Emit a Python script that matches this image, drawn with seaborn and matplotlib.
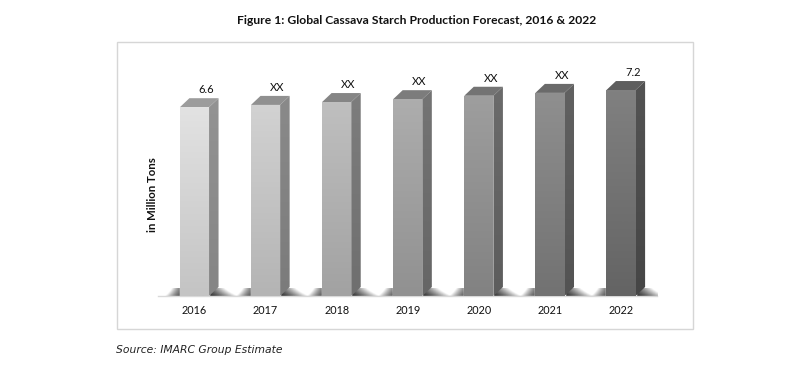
import numpy as np
import pandas as pd
import matplotlib
matplotlib.use("Agg")
import matplotlib.pyplot as plt
from matplotlib.colors import LinearSegmentedColormap
from matplotlib.patches import Polygon, Rectangle
import seaborn as sns

# data
years = ["2016", "2017", "2018", "2019", "2020", "2021", "2022"]
production = [6.6, 6.68, 6.78, 6.88, 7.0, 7.1, 7.2]
bar_labels = ["6.6", "XX", "XX", "XX", "XX", "XX", "7.2"]

# colours, top and bottom of each face
front_top = ["#e2e2e2", "#d2d2d2", "#bfbfbf", "#adadad", "#9e9e9e", "#8f8f8f", "#808080"]
front_bottom = ["#c4c4c4", "#b4b4b4", "#a2a2a2", "#919191", "#828282", "#727272", "#646464"]
side_top = ["#939393", "#8a8a8a", "#7d7d7d", "#747474", "#6b6b6b", "#616161", "#535353"]
side_bottom = ["#858585", "#7b7b7b", "#6f6f6f", "#666666", "#5d5d5d", "#535353", "#464646"]
top_color = ["#9c9c9c", "#909090", "#858585", "#7c7c7c", "#737373", "#6a6a6a", "#5e5e5e"]

W, H = 795, 371
sns.set_theme(style="white")
plt.rcParams["font.family"] = ["Lato", "DejaVu Sans"]

fig = plt.figure(figsize=(W / 100, H / 100), dpi=100)
ax = fig.add_axes([158 / W, 1 - 296 / H, (657 - 158) / W, 236 / H])
ax.patch.set_alpha(0)

df = pd.DataFrame({"year": years, "production": production})
sns.barplot(data=df, x="year", y="production", hue="year", palette=front_top,
            width=0.41, legend=False, ax=ax, zorder=3)

xlim = (-0.513, 6.506)
ylim = (0, 8.25)
ax.set_xlim(xlim)
ax.set_ylim(ylim)
px_x = (xlim[1] - xlim[0]) / (657 - 158)
px_y = (ylim[1] - ylim[0]) / 236
dx, dy = 9.5 * px_x, 9 * px_y


def gradient(patch, colors, zorder=3):
    # top to bottom fill, clipped to the face
    cmap = LinearSegmentedColormap.from_list("g", colors)
    pts = patch.get_xy()
    arr = np.linspace(0, 1, 64).reshape(-1, 1)
    im = ax.imshow(arr, cmap=cmap, aspect="auto", zorder=zorder, interpolation="bilinear",
                   extent=(pts[:, 0].min(), pts[:, 0].max(), pts[:, 1].min(), pts[:, 1].max()))
    im.set_clip_path(patch)


def shadow(x_start, x_end, height, darkness):
    # soft wedge on the floor, strongest at x_start and at floor level
    u = np.linspace(0, 1, 48)
    v = np.linspace(1, 0, 16)
    uu, vv = np.meshgrid(u, v)
    alpha = np.clip(1 - uu ** 1.4 - 0.6 * vv * (0.4 + uu), 0, 1) * darkness
    rgba = np.zeros((16, 48, 4))
    rgba[..., :3] = 0.15
    rgba[..., 3] = alpha
    if x_start > x_end:
        rgba = rgba[:, ::-1]
        x_start, x_end = x_end, x_start
    ax.imshow(rgba, aspect="auto", zorder=2, interpolation="bilinear",
              extent=(x_start, x_end, 0, height))


bars = list(ax.patches)
for i, bar in enumerate(bars):
    x0, x1 = bar.get_x(), bar.get_x() + bar.get_width()
    top = bar.get_height()

    # front face
    front = Polygon([(x0, 0), (x1, 0), (x1, top), (x0, top)], closed=True, fc="none", ec="none", zorder=3)
    ax.add_patch(front)
    gradient(front, [front_top[i], front_bottom[i]], zorder=3.1)

    # side and top faces
    side = Polygon([(x1, 0), (x1 + dx, dy), (x1 + dx, top + dy), (x1, top)],
                   closed=True, fc="none", ec="none", zorder=3)
    ax.add_patch(side)
    gradient(side, [side_top[i], side_bottom[i]], zorder=3.1)
    ax.add_patch(Polygon([(x0, top), (x1, top), (x1 + dx, top + dy), (x0 + dx, top + dy)],
                         closed=True, fc=top_color[i], ec="none", zorder=3))

    # floor shadow each side of the bar
    shadow(x1, x1 + 29 * px_x, 8 * px_y, 0.95)
    shadow(x0, x0 - 15 * px_x, 8 * px_y, 0.75)

    ax.annotate(bar_labels[i], xy=((x0 + x1) / 2, top), xytext=(8.5, 12.5), textcoords="offset points",
                ha="center", va="center", fontsize=8, color="#111111", zorder=5)

ax.set_xlim(xlim)
ax.set_ylim(ylim)
ax.set_xlabel("")
ax.set_ylabel("")
ax.set_yticks([])
ax.tick_params(axis="x", length=0, pad=6.5, labelsize=7.8, labelcolor="#111111")
sns.despine(ax=ax, left=True, top=True, right=True)
ax.spines["bottom"].set_color("#d9d9d9")
ax.spines["bottom"].set_linewidth(1)

# outer frame
fig.add_artist(Rectangle((116.5 / W, 1 - 329 / H), 576 / W, 287 / H, transform=fig.transFigure,
                         fc="none", ec="#d6d6d6", lw=1))

fig.text(417 / W, 1 - 20 / H, "Figure 1: Global Cassava Starch Production Forecast, 2016 & 2022",
         ha="center", va="center", fontsize=8.75, fontweight="bold", color="#111111")
fig.text(152 / W, 1 - 195 / H, "in Million Tons", rotation=90, ha="center", va="center",
         fontsize=8.2, fontweight="bold", color="#111111")
fig.text(116 / W, 1 - 350 / H, "Source: IMARC Group Estimate", ha="left", va="center",
         fontsize=7.75, style="italic", family="DejaVu Sans", color="#222222")

fig.savefig("out.png", dpi=100, facecolor="white")
